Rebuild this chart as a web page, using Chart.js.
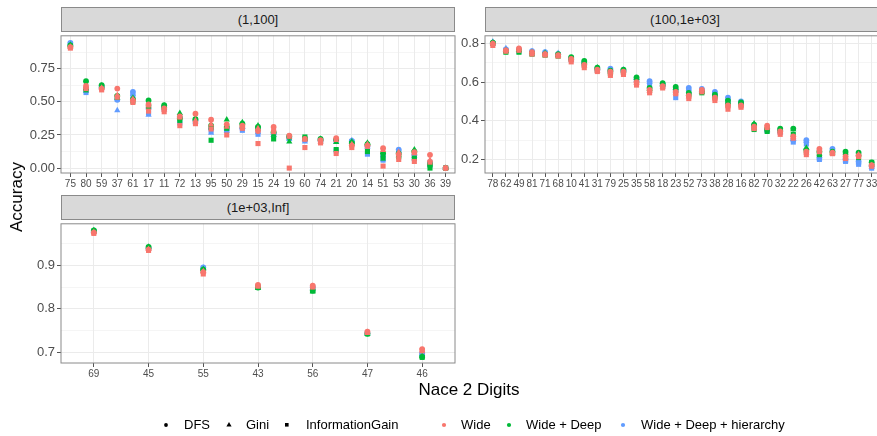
<!DOCTYPE html>
<html><head><meta charset="utf-8">
<script src="https://cdn.jsdelivr.net/npm/chart.js@4.4.1/dist/chart.umd.min.js"></script>
<style>
html,body{margin:0;padding:0;}
body{width:877px;height:436px;background:#fff;position:relative;overflow:hidden;font-family:"Liberation Sans",Arial,Helvetica,sans-serif;}
canvas{position:absolute;}
.strip{position:absolute;background:#d9d9d9;border:1px solid #8a8a8a;box-sizing:border-box;text-align:center;font-size:13px;color:#1a1a1a;line-height:23px;}
.txt{position:absolute;white-space:nowrap;color:#000;}
.leg{position:absolute;top:417px;font-size:13px;line-height:15px;white-space:nowrap;color:#000;}
</style>
</head><body>
<div class="strip" style="left:61px;top:7px;width:394px;height:25px;">(1,100]</div>
<div class="strip" style="left:485px;top:7px;width:400px;height:25px;">(100,1e+03]</div>
<div class="strip" style="left:61px;top:195px;width:394px;height:25px;">(1e+03,Inf]</div>
<canvas id="c1" width="459" height="170" style="left:0;top:26px;"></canvas>
<canvas id="c2" width="440" height="170" style="left:445px;top:26px;"></canvas>
<canvas id="c3" width="459" height="172" style="left:0;top:214px;"></canvas>
<div class="txt" id="ytitle" style="font-size:17px;left:17px;top:197px;transform:translate(-50%,-50%) rotate(-90deg);">Accuracy</div>
<div class="txt" style="font-size:17px;left:469px;top:390px;transform:translate(-50%,-50%);">Nace 2 Digits</div>
<svg width="877" height="436" style="position:absolute;left:0;top:0;pointer-events:none;">
  <circle cx="166" cy="425" r="1.9" fill="#000"/>
  <polygon points="229,422 231.6,426.6 226.4,426.6" fill="#000"/>
  <rect x="285" y="423" width="3.6" height="3.6" fill="#000"/>
  <circle cx="444" cy="425" r="2.1" fill="#F8766D"/>
  <circle cx="509" cy="425" r="2.1" fill="#00BA38"/>
  <circle cx="623" cy="425" r="2.1" fill="#619CFF"/>
</svg>
<div class="leg" style="left:184px;">DFS</div>
<div class="leg" style="left:246px;">Gini</div>
<div class="leg" style="left:306px;">InformationGain</div>
<div class="leg" style="left:461px;">Wide</div>
<div class="leg" style="left:526px;">Wide + Deep</div>
<div class="leg" style="left:641px;">Wide + Deep + hierarchy</div>
<script>
// ---------- Data ----------
const methods = ['DFS', 'Gini', 'InformationGain'];
const models = ['Wide', 'Wide + Deep', 'Wide + Deep + hierarchy'];

// Panel (1,100]
const p1Cats = ['75','80','59','37','61','17','11','72','13','95','50','29','15','24','19','60','74','21','20','14','51','53','30','36','39'];
const p1DfsWide  = [.912,.62,.60,.60,.51,.48,.45,.39,.41,.365,.33,.32,.28,.31,.245,.22,.21,.225,.17,.17,.15,.10,.12,.10,0];
const p1DfsDeep  = [.925,.655,.625,.545,.52,.51,.475,.375,.37,.32,.31,.335,.31,.27,.24,.225,.22,.215,.19,.18,.11,.11,.125,.03,0];
const p1DfsHier  = [.945,.60,.615,.515,.575,.45,.46,.385,.36,.30,.29,.30,.29,.26,.23,.21,.215,.21,.205,.165,.09,.14,.10,.045,0];
const p1GiniWide = [.915,.61,.605,.55,.52,.47,.44,.38,.36,.33,.31,.315,.30,.29,.235,.215,.20,.21,.18,.18,.135,.12,.11,.06,0];
const p1GiniDeep = [.93,.60,.62,.53,.53,.48,.47,.415,.375,.305,.365,.345,.32,.25,.20,.22,.22,.195,.20,.19,.12,.095,.14,.025,0];
const p1GiniHier = [.94,.58,.61,.435,.56,.40,.455,.395,.35,.265,.28,.31,.27,.265,.22,.20,.21,.20,.21,.16,.065,.13,.09,.04,0];
const p1IgWide   = [.905,.60,.59,.535,.495,.43,.425,.32,.335,.295,.25,.30,.185,.275,0,.155,.19,.11,.155,.165,.015,.065,.05,.045,0];
const p1IgDeep   = [.92,.59,.615,.54,.505,.465,.46,.36,.365,.21,.30,.32,.30,.22,.235,.235,.205,.14,.185,.125,.075,.085,.075,0,0];
const p1IgHier   = [.935,.57,.605,.52,.55,.415,.445,.34,.345,.28,.285,.285,.255,.25,.225,.215,.20,.13,.20,.105,.06,.12,.07,.02,0];

// Panel (100,1e+03]
const p2Cats = ['78','62','49','81','71','68','10','41','31','79','25','35','58','18','23','52','73','38','28','16','82','70','32','22','26','42','63','27','77','33'];
const p2DfsWide  = [.80,.765,.775,.755,.745,.74,.72,.69,.665,.655,.655,.60,.56,.58,.55,.53,.56,.52,.48,.48,.37,.375,.345,.32,.24,.255,.235,.215,.22,.17];
const p2DfsDeep  = [.805,.76,.765,.75,.745,.745,.73,.71,.675,.66,.665,.625,.57,.595,.575,.545,.55,.535,.505,.495,.38,.36,.36,.36,.25,.24,.24,.24,.235,.185];
const p2DfsHier  = [.80,.77,.77,.76,.755,.745,.725,.705,.67,.67,.66,.615,.605,.59,.56,.57,.565,.55,.52,.50,.375,.355,.35,.30,.30,.21,.255,.20,.19,.165];
const p2GiniWide = [.80,.765,.77,.75,.745,.735,.715,.685,.66,.65,.65,.595,.555,.575,.545,.525,.555,.515,.475,.475,.365,.37,.34,.315,.235,.25,.23,.21,.225,.17];
const p2GiniDeep = [.805,.765,.765,.755,.75,.74,.725,.705,.675,.655,.66,.62,.565,.59,.57,.54,.55,.53,.495,.49,.385,.355,.355,.355,.26,.23,.235,.235,.23,.18];
const p2GiniHier = [.81,.775,.765,.76,.755,.75,.72,.70,.67,.665,.665,.61,.60,.585,.555,.565,.56,.545,.515,.495,.38,.35,.345,.305,.295,.205,.25,.195,.185,.16];
const p2IgWide   = [.79,.76,.765,.745,.74,.735,.705,.675,.655,.635,.64,.585,.545,.57,.54,.515,.55,.505,.46,.47,.36,.365,.33,.31,.225,.24,.23,.205,.215,.165];
const p2IgDeep   = [.80,.755,.755,.745,.74,.735,.72,.695,.665,.645,.655,.61,.56,.585,.56,.535,.545,.525,.485,.485,.355,.345,.35,.33,.245,.225,.235,.225,.21,.185];
const p2IgHier   = [.80,.765,.76,.75,.745,.74,.715,.69,.66,.655,.65,.605,.59,.58,.52,.55,.555,.54,.50,.49,.365,.35,.34,.29,.28,.20,.245,.19,.175,.155];

// Panel (1e+03,Inf]
const p3Cats = ['69','45','55','43','56','47','46'];
const p3DfsWide  = [.975,.936,.884,.855,.853,.748,.708];
const p3DfsDeep  = [.98,.942,.89,.849,.842,.743,.69];
const p3DfsHier  = [.978,.94,.895,.85,.85,.745,.698];
const p3GiniWide = [.976,.937,.886,.853,.852,.747,.705];
const p3GiniDeep = [.98,.942,.891,.848,.84,.742,.692];
const p3GiniHier = [.979,.94,.894,.849,.848,.744,.697];
const p3IgWide   = [.973,.934,.88,.852,.85,.746,.704];
const p3IgDeep   = [.978,.94,.888,.849,.841,.743,.689];
const p3IgHier   = [.977,.939,.892,.85,.847,.745,.696];

// Y tick labels
const p1YTicks = [0, 0.25, 0.5, 0.75];
const p1YLabels = ['0.00', '0.25', '0.50', '0.75'];
const p1YMinor = [0.125, 0.375, 0.625, 0.875];
const p2YTicks = [0.2, 0.4, 0.6, 0.8];
const p2YLabels = ['0.2', '0.4', '0.6', '0.8'];
const p2YMinor = [0.3, 0.5, 0.7];
const p3YTicks = [0.7, 0.8, 0.9];
const p3YLabels = ['0.7', '0.8', '0.9'];
const p3YMinor = [0.75, 0.85, 0.95];

// ---------- Styles ----------
const modelColors = {'Wide':'#F8766D','Wide + Deep':'#00BA38','Wide + Deep + hierarchy':'#619CFF'};
const methodShapes = {'DFS':'circle','Gini':'triangle','InformationGain':'rect'};
const methodRadius = {'DFS':2.9,'Gini':3.6,'InformationGain':3.6};

Chart.defaults.font.family = "'Liberation Sans', Arial, Helvetica, sans-serif";

const borderPlugin = {
  id: 'panelBorder',
  afterDatasetsDraw(chart) {
    const {ctx, chartArea: a} = chart;
    ctx.save();
    ctx.strokeStyle = '#8a8a8a';
    ctx.lineWidth = 1;
    ctx.strokeRect(a.left, a.top, a.right - a.left, a.bottom - a.top);
    ctx.restore();
  }
};

function makePanel(id, cats, seriesByMethod, yMin, yMax, yTicks, yLabels, yMinor, yw, xh, pad) {
  const datasets = [];
  // Chart.js paints dataset 0 last (on top): Wide first so red sits on top
  models.forEach(model => {
    methods.forEach(method => {
      const vals = seriesByMethod[method][model];
      datasets.push({
        label: method + ' / ' + model,
        data: cats.map((c, i) => ({x: i, y: vals[i]})),
        pointStyle: methodShapes[method],
        pointRadius: methodRadius[method],
        pointBackgroundColor: modelColors[model],
        pointBorderColor: modelColors[model],
        pointBorderWidth: 0,
        clip: false
      });
    });
  });
  const isMinor = v => yMinor.some(m => Math.abs(m - v) < 1e-9);
  const allY = yTicks.concat(yMinor).filter(v => v >= yMin && v <= yMax).sort((a, b) => a - b);
  new Chart(document.getElementById(id), {
    type: 'scatter',
    data: {datasets},
    plugins: [borderPlugin],
    options: {
      responsive: false,
      animation: false,
      events: [],
      layout: {padding: pad, autoPadding: false},
      plugins: {legend: {display: false}, tooltip: {enabled: false}},
      scales: {
        x: {
          type: 'linear',
          min: -0.6,
          max: cats.length - 0.4,
          afterBuildTicks: s => { s.ticks = cats.map((c, i) => ({value: i})); },
          afterFit: s => { s.height = xh; },
          ticks: {autoSkip: false, maxRotation: 0, minRotation: 0, padding: 1, color: '#4d4d4d',
                  font: {size: 10}, callback: v => cats[v]},
          grid: {color: '#ebebeb', lineWidth: 1, tickLength: 4, tickColor: '#555', tickWidth: 1},
          border: {display: false}
        },
        y: {
          type: 'linear',
          min: yMin,
          max: yMax,
          afterBuildTicks: s => { s.ticks = allY.map(v => ({value: v})); },
          afterFit: s => { s.width = yw; },
          ticks: {autoSkip: false, padding: 2, color: '#4d4d4d', font: {size: 13},
                  callback: v => { const k = yTicks.findIndex(t => Math.abs(t - v) < 1e-9); return k >= 0 ? yLabels[k] : ''; }},
          grid: {
            color: '#ebebeb',
            lineWidth: ctx => (ctx.tick && isMinor(ctx.tick.value)) ? 0.5 : 1,
            tickLength: 4,
            tickWidth: 1,
            tickColor: ctx => (ctx.tick && isMinor(ctx.tick.value)) ? 'rgba(0,0,0,0)' : '#555'
          },
          border: {display: false}
        }
      }
    }
  });
}

makePanel('c1', p1Cats, {
  'DFS': {'Wide': p1DfsWide, 'Wide + Deep': p1DfsDeep, 'Wide + Deep + hierarchy': p1DfsHier},
  'Gini': {'Wide': p1GiniWide, 'Wide + Deep': p1GiniDeep, 'Wide + Deep + hierarchy': p1GiniHier},
  'InformationGain': {'Wide': p1IgWide, 'Wide + Deep': p1IgDeep, 'Wide + Deep + hierarchy': p1IgHier}
}, -0.037, 0.998, p1YTicks, p1YLabels, p1YMinor, 61, 23, {top: 5, right: 4, bottom: 0, left: 0});

makePanel('c2', p2Cats, {
  'DFS': {'Wide': p2DfsWide, 'Wide + Deep': p2DfsDeep, 'Wide + Deep + hierarchy': p2DfsHier},
  'Gini': {'Wide': p2GiniWide, 'Wide + Deep': p2GiniDeep, 'Wide + Deep + hierarchy': p2GiniHier},
  'InformationGain': {'Wide': p2IgWide, 'Wide + Deep': p2IgDeep, 'Wide + Deep + hierarchy': p2IgHier}
}, 0.13, 0.84, p2YTicks, p2YLabels, p2YMinor, 40, 23, {top: 5, right: 5.5, bottom: 0, left: 0});

makePanel('c3', p3Cats, {
  'DFS': {'Wide': p3DfsWide, 'Wide + Deep': p3DfsDeep, 'Wide + Deep + hierarchy': p3DfsHier},
  'Gini': {'Wide': p3GiniWide, 'Wide + Deep': p3GiniDeep, 'Wide + Deep + hierarchy': p3GiniHier},
  'InformationGain': {'Wide': p3IgWide, 'Wide + Deep': p3IgDeep, 'Wide + Deep + hierarchy': p3IgHier}
}, 0.676, 0.995, p3YTicks, p3YLabels, p3YMinor, 61, 23, {top: 5, right: 4, bottom: 0, left: 0});
</script>
</body></html>
